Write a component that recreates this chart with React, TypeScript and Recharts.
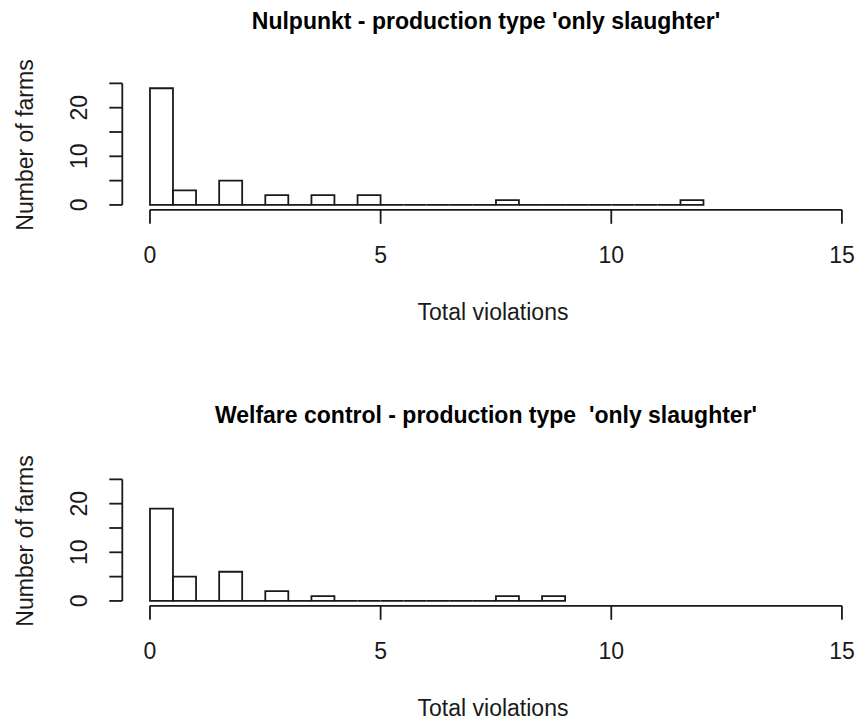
import { Bar, BarChart, ReferenceLine, XAxis, YAxis } from "recharts";

// counts per number of violations
const NUL_VIOLATIONS = [0, 1, 2, 3, 4, 5, 8, 12];
const NUL_FARMS = [24, 3, 5, 2, 2, 2, 1, 1];
const WEL_VIOLATIONS = [0, 1, 2, 3, 4, 8, 9];
const WEL_FARMS = [19, 5, 6, 2, 1, 1, 1];

const BIN_WIDTH = 0.5;
const X_TICKS = [0, 5, 10, 15];
const Y_TICKS = [0, 5, 10, 15, 20, 25];
const Y_LABELS = [0, 10, 20];

const FONT = "'Liberation Sans', Arial, sans-serif";
const INK = "#1a1a1a";

// R-style right-closed bins of width 0.5 starting at 0 (0 falls in the first one)
function toBins(values: number[], counts: number[]) {
  const max = Math.max(...values);
  const n = Math.round(max / BIN_WIDTH);
  const bins = [];
  for (let i = 0; i < n; i++) {
    const lo = i * BIN_WIDTH;
    const hi = lo + BIN_WIDTH;
    let farms = 0;
    values.forEach((v, k) => {
      if ((v > lo && v <= hi) || (i === 0 && v === 0)) farms += counts[k];
    });
    bins.push({ mid: lo + BIN_WIDTH / 2, farms });
  }
  return bins;
}

const HistBar = (p: any) => {
  const { x, y, width, height } = p;
  const base = y + height;
  return (
    <path
      d={`M${x},${base}V${y}H${x + width}V${base}Z`}
      fill="#fff"
      stroke={INK}
      strokeWidth={1.8}
    />
  );
};

const YTick = (p: any) => {
  const { x, y, payload } = p;
  if (!Y_LABELS.includes(payload.value)) return null;
  return (
    <text
      transform={`translate(${x},${y}) rotate(-90)`}
      textAnchor="middle"
      dy="0.35em"
      fontSize={23}
      fontFamily={FONT}
      fill={INK}
    >
      {payload.value}
    </text>
  );
};

interface PanelProps {
  title: string;
  titleY: number;
  values: number[];
  counts: number[];
}

function Panel({ title, titleY, values, counts }: PanelProps) {
  const data = toBins(values, counts);
  return (
    <BarChart
      width={856}
      height={326}
      data={data}
      margin={{ top: 78.5, right: 0, left: 62.3, bottom: 86.2 }}
      barCategoryGap={0}
      barGap={0}
    >
      <XAxis
        dataKey="mid"
        type="number"
        domain={[-0.6, 15.305]}
        ticks={X_TICKS}
        allowDataOverflow
        axisLine={false}
        tickSize={14}
        tickMargin={22.6}
        tickLine={{ stroke: INK, strokeWidth: 1.8 }}
        tick={{ fontSize: 23, fill: INK, fontFamily: FONT }}
        height={30}
      />
      <YAxis
        type="number"
        domain={[-1, 26]}
        ticks={Y_TICKS}
        allowDataOverflow
        axisLine={false}
        tickSize={13}
        tickMargin={30.3}
        tickLine={{ stroke: INK, strokeWidth: 1.8 }}
        tick={<YTick />}
        width={60}
      />
      <ReferenceLine
        segment={[
          { x: 0, y: -1 },
          { x: 15, y: -1 },
        ]}
        stroke={INK}
        strokeWidth={1.8}
      />
      <ReferenceLine
        segment={[
          { x: -0.6, y: 0 },
          { x: -0.6, y: 25 },
        ]}
        stroke={INK}
        strokeWidth={1.8}
      />
      <Bar dataKey="farms" shape={<HistBar />} isAnimationActive={false} />
      <text
        x={486}
        y={titleY}
        textAnchor="middle"
        fontSize={23}
        fontWeight="bold"
        fontFamily={FONT}
        fill="#000"
        style={{ whiteSpace: "pre" }}
      >
        {title}
      </text>
      <text
        x={493}
        y={320}
        textAnchor="middle"
        fontSize={23}
        fontFamily={FONT}
        fill={INK}
      >
        Total violations
      </text>
      <text
        transform="translate(33.3,145) rotate(-90)"
        textAnchor="middle"
        fontSize={23}
        fontFamily={FONT}
        fill={INK}
      >
        Number of farms
      </text>
    </BarChart>
  );
}

export default function App() {
  return (
    <div
      style={{
        position: "absolute",
        left: 0,
        top: 0,
        width: 856,
        height: 722,
        background: "#fff",
      }}
    >
      <div style={{ position: "absolute", left: 0, top: 0 }}>
        <Panel
          title="Nulpunkt - production type 'only slaughter'"
          titleY={29.3}
          values={NUL_VIOLATIONS}
          counts={NUL_FARMS}
        />
      </div>
      <div style={{ position: "absolute", left: 0, top: 396 }}>
        <Panel
          title="Welfare control - production type  'only slaughter'"
          titleY={27.3}
          values={WEL_VIOLATIONS}
          counts={WEL_FARMS}
        />
      </div>
    </div>
  );
}
